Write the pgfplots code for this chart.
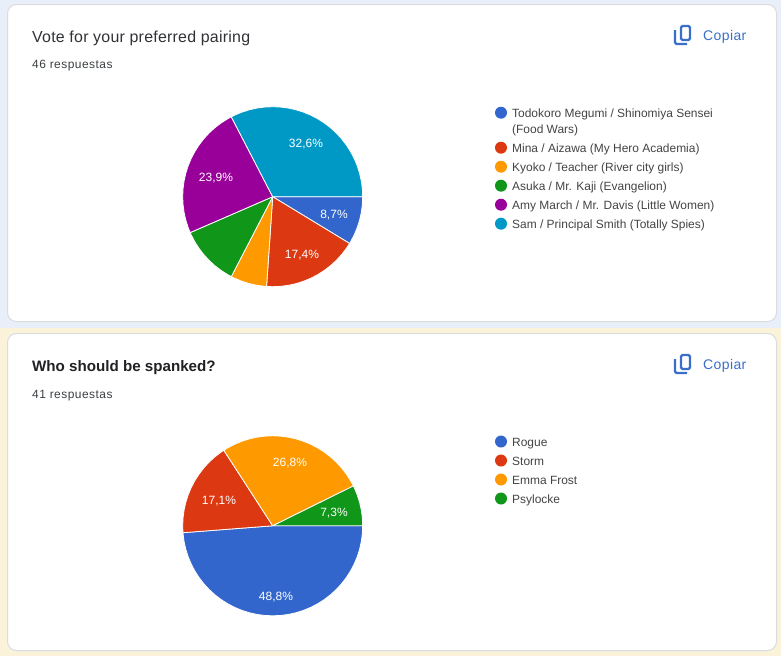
\documentclass[border=0pt]{standalone}
\usepackage{pgfplots}
\pgfplotsset{compat=1.18}
\usepgfplotslibrary{polar}
\usepackage{fontspec}
\setmainfont{Liberation Sans}
\newfontfamily\titlefont[LetterSpace=1.5]{Liberation Sans}
\newfontfamily\subfont[LetterSpace=4]{Liberation Sans}
\newfontfamily\copyfont[LetterSpace=3]{Liberation Sans}
\definecolor{gblue}{HTML}{3366CC}
\definecolor{gred}{HTML}{DC3912}
\definecolor{gorange}{HTML}{FF9900}
\definecolor{ggreen}{HTML}{109618}
\definecolor{gpurple}{HTML}{990099}
\definecolor{gteal}{HTML}{0099C6}
\definecolor{bgtop}{HTML}{E8EFF8}
\definecolor{bgbot}{HTML}{FAF3D9}
\definecolor{cardline}{HTML}{DADCE0}
\definecolor{copyblue}{HTML}{3A6FC9}
\definecolor{titlec}{HTML}{202124}
\definecolor{titlel}{HTML}{303236}
\definecolor{subc}{HTML}{3C4043}
\definecolor{legc}{HTML}{444444}
\pgfplotsset{pieaxis/.style={
  scale only axis, width=180bp, height=180bp, anchor=center, hide axis, clip=false,
  xmin=0, xmax=360, ymin=0, ymax=1},
  wedge/.style={fill=#1, draw=white, line width=0.8bp, line join=round, no markers}}
\newcommand{\lab}[3]{\node[anchor=center,text=white,inner sep=0pt,font=\fontsize{12.05}{14}\selectfont] at (#1bp,-#2.8bp) {#3};}
\newcommand{\leg}[4]{%
  \fill[#3] (501bp,-#1bp) circle (6bp);
  \node[anchor=base west,inner sep=0pt,text=legc,font=\fontsize{12}{14}\selectfont] at (512bp,-#2bp) {#4};}
\newcommand{\copyicon}[1]{%
  \begin{scope}[yshift=-#1bp]
  \draw[copyblue,line width=2.2bp,rounded corners=1.5bp] (681bp,-26bp) rectangle (690bp,-40bp);
  \draw[copyblue,line width=2.2bp,rounded corners=1.5bp] (675bp,-30bp) -- (675bp,-44bp) -- (687bp,-44bp);
  \node[anchor=base west,inner sep=0pt,text=copyblue,font=\copyfont\fontsize{14}{15}\selectfont] at (703bp,-40bp) {Copiar};
  \end{scope}}
\begin{document}
\begin{tikzpicture}[x=1bp,y=1bp]
\useasboundingbox (0,-656bp) rectangle (781bp,0);
\fill[bgtop] (0,0) rectangle (781bp,-328bp);
\fill[bgbot] (0,-328bp) rectangle (781bp,-656bp);
\draw[cardline,fill=white,line width=1bp,rounded corners=9bp] (7.5bp,-4.5bp) rectangle (776.5bp,-321.5bp);
\draw[cardline,fill=white,line width=1bp,rounded corners=9bp] (7.5bp,-333.5bp) rectangle (776.5bp,-650.5bp);

\node[anchor=base west,inner sep=0pt,text=titlel,font=\titlefont\fontsize{16}{18}\selectfont] at (32bp,-42bp) {Vote for your preferred pairing};
\node[anchor=base west,inner sep=0pt,text=subc,font=\subfont\fontsize{12}{14}\selectfont] at (32bp,-68.5bp) {46 respuestas};
\node[anchor=base west,inner sep=0pt,text=titlec,font=\fontseries{b}\fontsize{15.2}{18}\selectfont] at (32bp,-371bp) {Who should be spanked?};
\node[anchor=base west,inner sep=0pt,text=subc,font=\subfont\fontsize{12}{14}\selectfont] at (32bp,-398bp) {41 respuestas};
\copyicon{0}
\copyicon{329}

\begin{polaraxis}[pieaxis, at={(272.7bp,-196.7bp)}]
\addplot[wedge=gblue] coordinates {(0,0) (360,1) (355,1) (350,1) (345,1) (340,1) (335,1) (330,1) (328.7,1) (0,0)};
\addplot[wedge=gred] coordinates {(0,0) (328.7,1) (325,1) (320,1) (315,1) (310,1) (305,1) (300,1) (295,1) (290,1) (285,1) (280,1) (275,1) (270,1) (266.1,1) (0,0)};
\addplot[wedge=gorange] coordinates {(0,0) (266.1,1) (265,1) (260,1) (255,1) (250,1) (245,1) (242.6,1) (0,0)};
\addplot[wedge=ggreen] coordinates {(0,0) (242.6,1) (240,1) (235,1) (230,1) (225,1) (220,1) (215,1) (210,1) (205,1) (203.5,1) (0,0)};
\addplot[wedge=gpurple] coordinates {(0,0) (203.5,1) (200,1) (195,1) (190,1) (185,1) (180,1) (175,1) (170,1) (165,1) (160,1) (155,1) (150,1) (145,1) (140,1) (135,1) (130,1) (125,1) (120,1) (117.4,1) (0,0)};
\addplot[wedge=gteal] coordinates {(0,0) (117.4,1) (115,1) (110,1) (105,1) (100,1) (95,1) (90,1) (85,1) (80,1) (75,1) (70,1) (65,1) (60,1) (55,1) (50,1) (45,1) (40,1) (35,1) (30,1) (25,1) (20,1) (15,1) (10,1) (5,1) (0,1) (0,0)};
\end{polaraxis}

\begin{polaraxis}[pieaxis, at={(272.7bp,-525.8bp)}]
\addplot[wedge=gblue] coordinates {(0,0) (360,1) (355,1) (350,1) (345,1) (340,1) (335,1) (330,1) (325,1) (320,1) (315,1) (310,1) (305,1) (300,1) (295,1) (290,1) (285,1) (280,1) (275,1) (270,1) (265,1) (260,1) (255,1) (250,1) (245,1) (240,1) (235,1) (230,1) (225,1) (220,1) (215,1) (210,1) (205,1) (200,1) (195,1) (190,1) (185,1) (184.4,1) (0,0)};
\addplot[wedge=gred] coordinates {(0,0) (184.4,1) (180,1) (175,1) (170,1) (165,1) (160,1) (155,1) (150,1) (145,1) (140,1) (135,1) (130,1) (125,1) (122.9,1) (0,0)};
\addplot[wedge=gorange] coordinates {(0,0) (122.9,1) (120,1) (115,1) (110,1) (105,1) (100,1) (95,1) (90,1) (85,1) (80,1) (75,1) (70,1) (65,1) (60,1) (55,1) (50,1) (45,1) (40,1) (35,1) (30,1) (26.3,1) (0,0)};
\addplot[wedge=ggreen] coordinates {(0,0) (26.3,1) (25,1) (20,1) (15,1) (10,1) (5,1) (0,1) (0,0)};
\end{polaraxis}

\lab{334}{214}{8,7\%}
\lab{302}{254}{17,4\%}
\lab{216}{177}{23,9\%}
\lab{306}{143}{32,6\%}
\lab{290}{462}{26,8\%}
\lab{219}{500}{17,1\%}
\lab{334}{512}{7,3\%}
\lab{276}{596}{48,8\%}

\leg{112.7}{117}{gblue}{Todokoro Megumi / Shinomiya Sensei}
\node[anchor=base west,inner sep=0pt,text=legc,font=\fontsize{12}{14}\selectfont] at (512bp,-133bp) {(Food Wars)};
\leg{147.7}{152}{gred}{Mina / Aizawa (My Hero Academia)}
\leg{166.7}{171}{gorange}{Kyoko / Teacher (River city girls)}
\leg{185.7}{190}{ggreen}{Asuka / Mr. Kaji (Evangelion)}
\leg{204.7}{209}{gpurple}{Amy March / Mr. Davis (Little Women)}
\leg{223.7}{228}{gteal}{Sam / Principal Smith (Totally Spies)}

\leg{441.5}{446}{gblue}{Rogue}
\leg{460.5}{465}{gred}{Storm}
\leg{479.5}{484}{gorange}{Emma Frost}
\leg{498.5}{503}{ggreen}{Psylocke}
\end{tikzpicture}
\end{document}
